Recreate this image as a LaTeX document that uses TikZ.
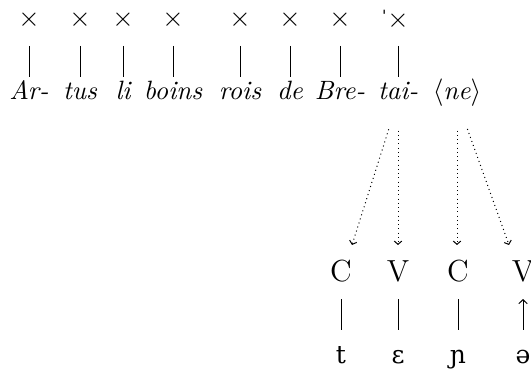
\documentclass[tikz,border=0pt]{standalone}
\usepackage{fontspec}
\newfontfamily\ipafont{DejaVu Serif}
\usetikzlibrary{arrows.meta}
\begin{document}
\begin{tikzpicture}[x=0.4pt,y=-0.4pt,
  xmk/.style={inner sep=0pt, font=\fontsize{11}{12}\selectfont},
  word/.style={inner sep=0pt, anchor=base, font=\fontsize{10.6}{12}\selectfont\itshape},
  seg/.style={inner sep=0pt, anchor=base, font=\fontsize{12.2}{14}\selectfont},
  phon/.style={inner sep=0pt, anchor=base, font=\fontsize{10}{12}\selectfont\ipafont},
  lower/.style={line width=0.4pt, shorten <=6.8pt, shorten >=13.2pt},
  dotarr/.style={line width=0.4pt, dash pattern=on 0.4pt off 1.3pt,
    -{Straight Barb[length=1.3pt,width=3pt]}, shorten <=12.3pt},
]
\useasboundingbox (0,0) rectangle (531,371);
% skeletal positions
\node[xmk] (x1) at (29,20) {$\times$};
\node[xmk] (x2) at (80,20) {$\times$};
\node[xmk] (x3) at (123,20) {$\times$};
\node[xmk] (x4) at (173,20) {$\times$};
\node[xmk] (x5) at (240,20) {$\times$};
\node[xmk] (x6) at (290,20) {$\times$};
\node[xmk] (x7) at (340,20) {$\times$};
\node[xmk] (x8) at (398,20) {\llap{\raisebox{1.6pt}{\ipafont\fontsize{7}{8}\selectfont ˈ}\kern0.3pt}$\times$};
% words
\node[word] (w1) at (29,100) {Ar-};
\node[word] (w2) at (80,100) {tus};
\node[word] (w3) at (123,100) {li};
\node[word] (w4) at (173,100) {boins};
\node[word] (w5) at (240,100) {rois};
\node[word] (w6) at (290,100) {de};
\node[word] (w7) at (340,100) {Bre-};
\node[word] (w8) at (398,100) {tai-};
\node[word] (w9) at (457,100) {$\langle$ne$\rangle$};
\foreach \i in {1,...,8} \draw[line width=0.4pt] (x\i.center) ++(0,26) -- ++(0,31);
% CV tier
\node[seg] (c1) at (341,282) {C};
\node[seg] (c2) at (398,282) {V};
\node[seg] (c3) at (458,282) {C};
\node[seg] (c4) at (523,282) {V};
% melody
\node[phon] (p1) at (341,363) {t};
\node[phon] (p2) at (398,363) {ɛ};
\node[phon] (p3) at (458,363) {ɲ};
\node[phon] (p4) at (523,363) {ə};
\draw[lower] (c1.base) -- (p1.base);
\draw[lower] (c2.base) -- (p2.base);
\draw[lower] (c3.base) -- (p3.base);
\draw[lower, <-, >={Straight Barb[length=1.6pt,width=3.4pt]}] (c4.base) -- (p4.base);
% dotted arrows
\coordinate (a1) at (352,245);
\coordinate (a2) at (398,245);
\coordinate (a3) at (457,245);
\coordinate (a4) at (509,245);
\draw[dotarr] (w8.base) -- (a1);
\draw[dotarr] (w8.base) -- (a2);
\draw[dotarr] (w9.base) -- (a3);
\draw[dotarr] (w9.base) -- (a4);
\end{tikzpicture}
\end{document}
